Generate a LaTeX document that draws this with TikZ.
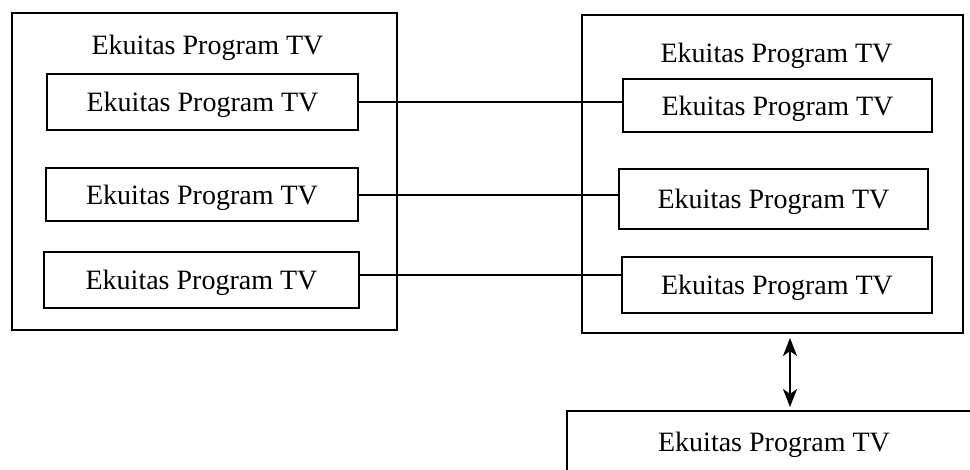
\documentclass[tikz,border=0pt]{standalone}
\usepackage{fontspec}
\setmainfont{Liberation Serif}
\usetikzlibrary{arrows.meta,calc}
\tikzset{tipS/.tip={Stealth[length=18pt,width=14pt,inset=5pt]}}
\begin{document}
\begin{tikzpicture}[x=1pt,y=-1pt,
  every node/.style={font=\fontsize{28}{34}\selectfont},
  frame/.style={draw,line width=2pt,inner sep=0pt},
  box/.style={draw,line width=2pt,inner sep=0pt,text height=20pt,text depth=0pt},
  link/.style={line width=2pt},
  dbl/.style={line width=2pt,tipS-tipS}]
\useasboundingbox (0,0) rectangle (970,470);
\clip (0,0) rectangle (970,470);
% outer frames
\node[frame,minimum width=385pt,minimum height=317pt] (LO) at (204.5,171.5) {};
\node[frame,minimum width=381pt,minimum height=318pt] (RO) at (772.5,174) {};
% titles
\node[anchor=base] (LT) at (207.5,55) {Ekuitas Program TV};
\node[anchor=base] (RT) at (776.5,63) {Ekuitas Program TV};
% left boxes
\node[box,minimum width=311pt,minimum height=56pt] (L1) at (202.5,102) {Ekuitas Program TV};
\node[box,minimum width=312pt,minimum height=53pt] (L2) at (202,195) {Ekuitas Program TV};
\node[box,minimum width=315pt,minimum height=56pt] (L3) at (201.5,280) {Ekuitas Program TV};
% right boxes
\node[box,minimum width=309pt,minimum height=53pt] (R1) at (777.5,105.5) {Ekuitas Program TV};
\node[box,minimum width=309pt,minimum height=60pt] (R2) at (773.5,199) {Ekuitas Program TV};
\node[box,minimum width=310pt,minimum height=56pt] (R3) at (777,285) {Ekuitas Program TV};
% bottom box
\node[box,minimum width=414pt,minimum height=62pt] (B) at (774,442) {Ekuitas Program TV};
% connectors
\draw[link] (L1.east) -- (L1.east -| R1.west);
\draw[link] (L2.east) -- (L2.east -| R2.west);
\draw[link] ([yshift=5pt]L3.east) -- ([yshift=5pt]L3.east -| R3.west);
% double arrow
\coordinate (ax) at (790,0);
\draw[dbl,shorten <=4pt,shorten >=3pt] (ax |- RO.south) -- (ax |- B.north);
\end{tikzpicture}
\end{document}
